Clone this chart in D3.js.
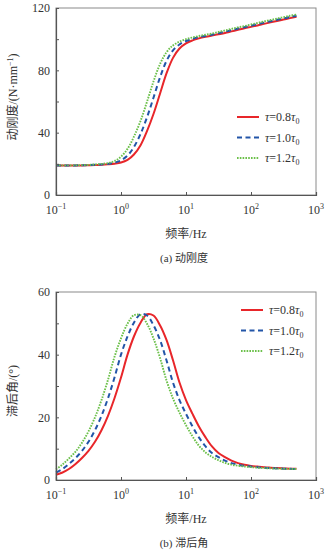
<!DOCTYPE html>
<html><head><meta charset="utf-8">
<script src="https://cdn.jsdelivr.net/npm/d3@7"></script>
<style>
html,body{margin:0;padding:0;background:#fff;}
svg text{font-family:"Liberation Serif","Noto Sans CJK SC",serif;fill:#333;}
</style></head>
<body><svg id="c" width="328" height="557"></svg>
<script>
const freq = [0.1,0.126,0.158,0.2,0.251,0.316,0.398,0.501,0.631,0.794,1,1.26,1.58,2,2.51,3.16,3.98,5.01,6.31,7.94,10,12.6,15.8,20,25.1,31.6,39.8,50.1,63.1,79.4,100,126,158,200,251,316,398,501];
const stiff08 = [19,19,19,19,19,19.1,19.2,19.4,19.7,20.1,20.8,22.5,26,32,41,52,65,78,88,94,97.3,99.2,100.5,101.5,102.3,103.1,104,105,106,107,107.9,108.8,109.8,110.8,111.7,112.6,113.5,114.4];
const stiff10 = [19,19,19,19,19.1,19.2,19.35,19.65,20,20.7,22.2,25.3,30.8,39.2,49.8,62.4,75.4,86,92.8,96.6,98.8,100.2,101.3,102.1,102.9,103.8,104.8,105.8,106.8,107.7,108.6,109.6,110.6,111.5,112.4,113.3,114.2,115];
const stiff12 = [19,19,19,19.05,19.15,19.3,19.6,19.95,20.5,21.8,24.6,29.6,37.4,47.6,59.8,72.8,84,91.6,96,98.4,100,101.1,102,102.8,103.6,104.6,105.6,106.6,107.6,108.4,109.4,110.4,111.4,112.3,113.2,114.1,115,115.8];
const lag08 = [1.7,2.4,3.5,5.1,7,9.3,12.2,15.9,20.5,26.1,32.7,40,45.8,50.2,52.9,52.5,49.4,44.7,38.2,31.1,25.5,21.1,17.1,13.6,10.7,8.6,7.3,6.2,5.4,4.86,4.5,4.28,4.08,3.93,3.8,3.7,3.63,3.57];
const lag10 = [2.4,3.5,5.1,7,9.3,12.2,15.9,20.5,26.1,32.7,40,45.8,50.2,52.9,52.5,49.4,44.7,38.2,31.1,25.5,21.1,17.1,13.6,10.7,8.6,7.3,6.2,5.4,4.86,4.5,4.28,4.08,3.93,3.8,3.7,3.63,3.57,3.52];
const lag12 = [3.4,4.95,6.85,9.05,11.9,15.5,20,25.5,32,39.3,45.2,49.9,52.6,52.6,49.9,45.2,39,31.8,26,21.5,17.5,13.9,10.95,8.8,7.4,6.3,5.45,4.9,4.55,4.3,4.1,3.94,3.81,3.71,3.64,3.58,3.53,3.5];
const xTicks = [0.1,1,10,100,1000];
const xTickExp = ["−1","0","1","2","3"];
const yTicksA = [0,20,40,60,80,100,120];
const yLabelsA = ["0","","40","","80","","120"];
const yTicksB = [0,10,20,30,40,50,60];
const yLabelsB = ["0","","20","","40","","60"];
const seriesNames = ["0.8","1.0","1.2"];
const colors = ["#e8262a","#2255a8","#6cc04a"];
const dashes = [null,"5,3.5","1.6,1.2"];
const widths = [2,2,1.9];

const svg = d3.select("#c");

function panel(cfg){
  const x = d3.scaleLog().domain([0.1,1000]).range([56,316]);
  const y = d3.scaleLinear().domain(cfg.ydom).range([cfg.bottom,cfg.top]);
  const g = svg.append("g");
  g.append("rect").attr("x",56).attr("y",cfg.top).attr("width",260).attr("height",cfg.bottom-cfg.top)
    .attr("fill","none").attr("stroke","#8a8a8a").attr("stroke-width",1);
  cfg.series.forEach((s,i)=>{
    const line = d3.line().x((d,j)=>x(freq[j])).y(d=>y(d)).curve(d3.curveCatmullRom.alpha(0.5));
    g.append("path").attr("d",line(s)).attr("fill","none").attr("stroke",colors[i])
      .attr("stroke-width",widths[i]).attr("stroke-dasharray",dashes[i]);
  });
  const ax = d3.axisBottom(x).tickValues(xTicks).tickSize(-3).tickFormat("");
  const gx = g.append("g").attr("transform",`translate(0,${cfg.bottom})`).call(ax);
  gx.select(".domain").attr("stroke","#555").attr("stroke-width",1.2);
  gx.selectAll(".tick line").attr("stroke","#555");
  xTicks.forEach((t,i)=>{
    const tx = g.append("text").attr("x",x(t)).attr("y",cfg.bottom+19).attr("text-anchor","middle")
      .attr("font-size",12);
    tx.append("tspan").text("10");
    tx.append("tspan").attr("dy",-5).attr("font-size",8).text(xTickExp[i]);
  });
  const ay = d3.axisLeft(y).tickValues(cfg.yt).tickSize(-3).tickFormat((d,i)=>cfg.yl[i]).tickPadding(6);
  const gy = g.append("g").attr("transform","translate(56,0)").call(ay);
  gy.select(".domain").attr("stroke","#555").attr("stroke-width",1.2);
  gy.selectAll(".tick line").attr("stroke","#555");
  gy.selectAll(".tick text").attr("font-size",12).attr("fill","#333")
    .style("font-family",'"Liberation Serif",serif');
  g.append("text").attr("x",186).attr("y",cfg.bottom+43).attr("text-anchor","middle")
    .attr("font-size",12).text("频率/Hz");
  g.append("text").attr("x",184).attr("y",cfg.bottom+67).attr("text-anchor","middle")
    .attr("font-size",11).text(cfg.caption);
  const yl = g.append("text").attr("transform",`translate(17,${cfg.ylabY}) rotate(-90)`)
    .attr("text-anchor","middle").attr("font-size",12);
  cfg.ylabFn(yl);
  seriesNames.forEach((n,i)=>{
    const ly = cfg.legY + i*20.5;
    g.append("line").attr("x1",cfg.legX).attr("x2",cfg.legX+22).attr("y1",ly).attr("y2",ly)
      .attr("stroke",colors[i]).attr("stroke-width",widths[i]).attr("stroke-dasharray",dashes[i]);
    const t = g.append("text").attr("x",cfg.legX+28).attr("y",ly+4).attr("font-size",12);
    t.append("tspan").attr("font-style","italic").text("τ");
    t.append("tspan").text("="+n);
    t.append("tspan").attr("font-style","italic").text("τ");
    t.append("tspan").attr("dy",3).attr("font-size",8).text("0");
  });
}

panel({top:8,bottom:195,ydom:[0,120],yt:yTicksA,yl:yLabelsA,series:[stiff08,stiff10,stiff12],
  caption:"(a) 动刚度",ylabY:97,legX:237,legY:117,
  ylabFn:t=>{t.append("tspan").text("动刚度/(N·mm");t.append("tspan").attr("dy",-4).attr("font-size",8).text("−1");t.append("tspan").attr("dy",4).text(")");}});
panel({top:292,bottom:480,ydom:[0,60],yt:yTicksB,yl:yLabelsB,series:[lag08,lag10,lag12],
  caption:"(b) 滞后角",ylabY:391,legX:241,legY:310,
  ylabFn:t=>{t.text("滞后角/(°)");}});
</script></body></html>
